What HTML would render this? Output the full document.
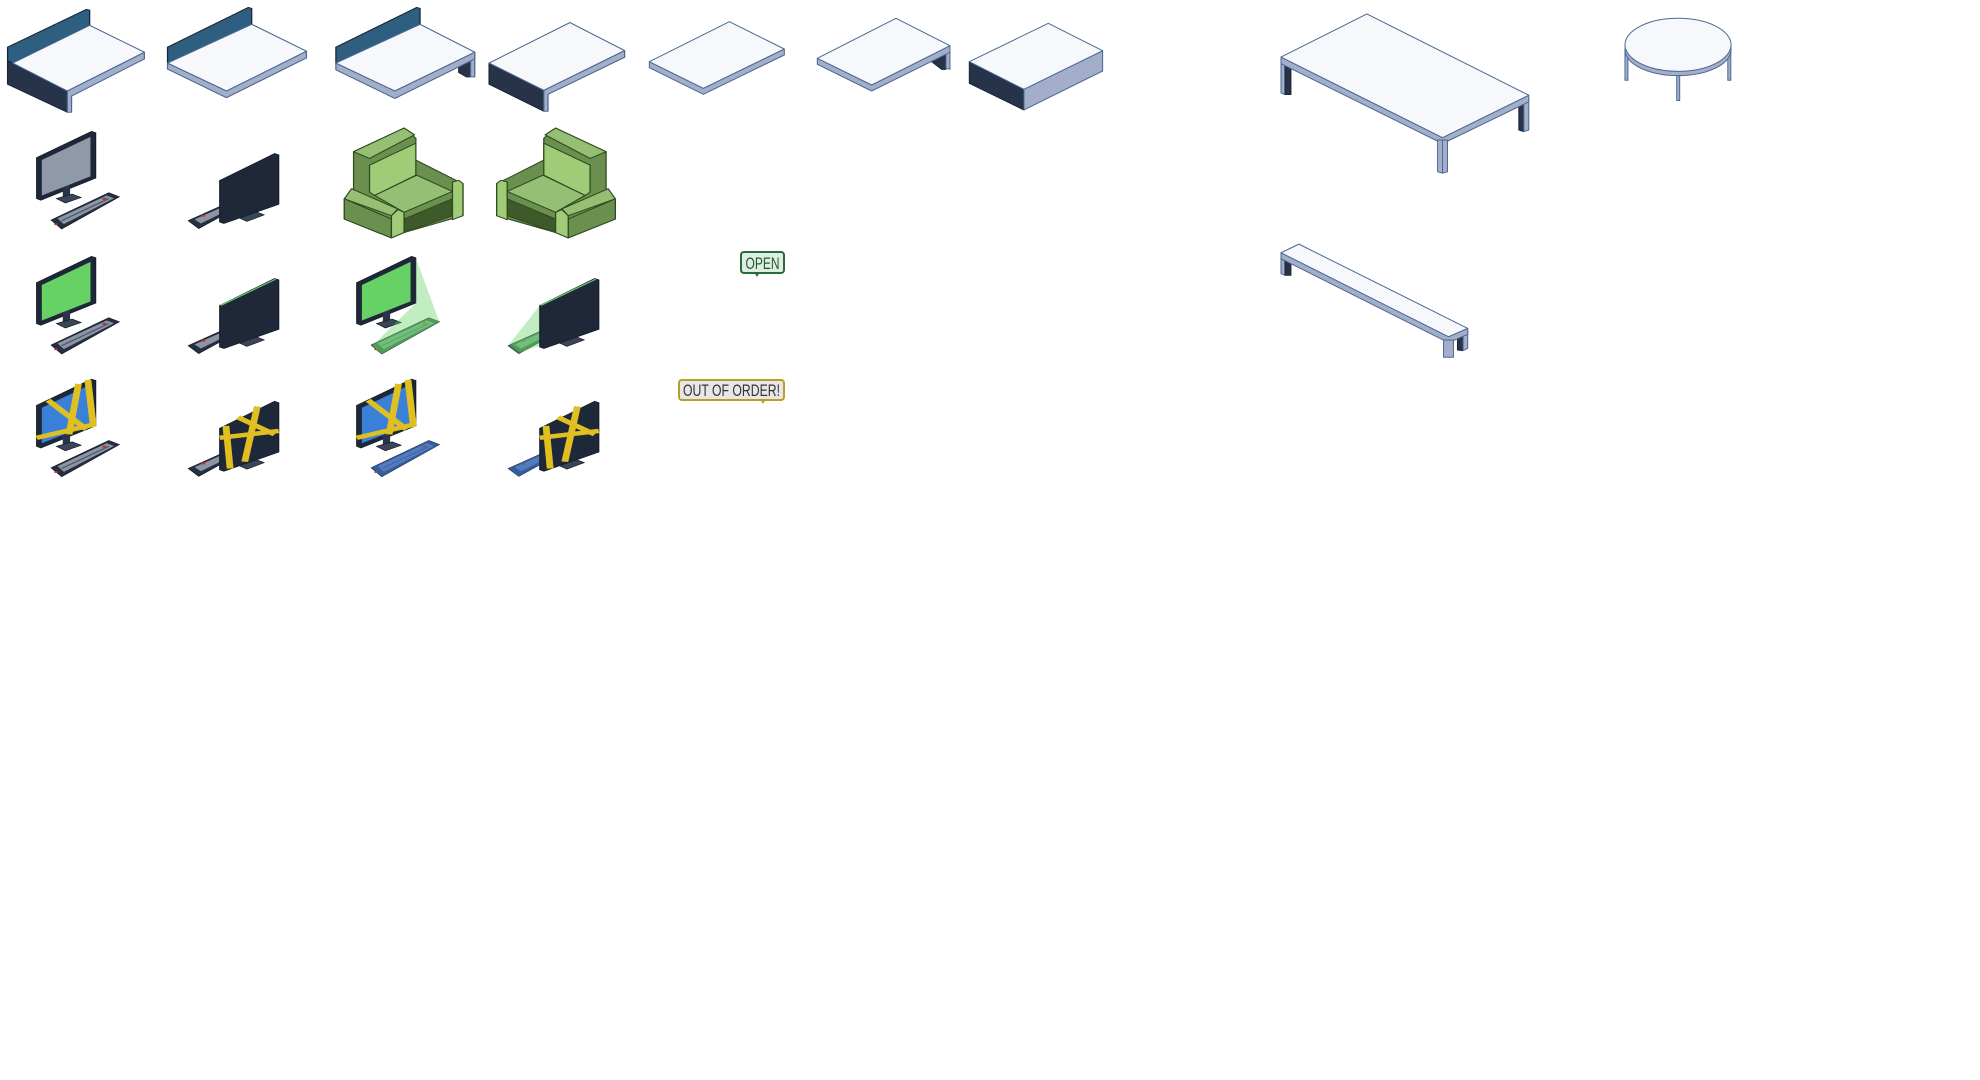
<!DOCTYPE html>
<html><head><meta charset="utf-8"><style>html,body{margin:0;padding:0;background:#fff}svg{display:block}</style></head>
<body>
<svg width="1980" height="1080" viewBox="0 0 1980 1080" xmlns="http://www.w3.org/2000/svg">
<defs>
<g id="kb">
<polygon points="98,308 208,228 228,240 118,334" fill="#263040" stroke="#151c28" stroke-width="2"/>
<polygon points="110,303 204,236 218,244 122,320" fill="#8c95a3"/>
<line x1="118" y1="310" x2="208" y2="245" stroke="#4a5568" stroke-width="3"/>
<rect x="196" y="243" width="7" height="6" fill="#c03030"/>
<rect x="104" y="318" width="6" height="5" fill="#c03030"/>
</g>
<g id="monF">
<polygon points="70,125 175,48 183,52 183,185 78,250 70,245" fill="#1f2838" stroke="#151c28" stroke-width="2"/>
<rect x="120" y="200" width="14" height="45" fill="#2a3446"/>
<polygon points="108,245 138,232 155,242 125,258" fill="#3a4558" stroke="#151c28" stroke-width="2"/>
</g>
<g id="monB">
<rect x="478" y="268" width="14" height="32" fill="#2a3446"/>
<polygon points="455,300 488,283 505,293 472,312" fill="#3a4558" stroke="#151c28" stroke-width="2"/>
<polygon points="420,192 525,113 533,117 533,262 428,318 420,314" fill="#1f2838" stroke="#151c28" stroke-width="2"/>
</g>
<g id="kbB">
<polygon points="360,310 430,262 450,274 380,333" fill="#263040" stroke="#151c28" stroke-width="2"/>
<polygon points="372,306 428,268 440,276 384,318" fill="#8c95a3"/>
<rect x="385" y="292" width="7" height="6" fill="#c03030"/>
</g>
<g id="chair" stroke="#2f4a1e" stroke-width="3" stroke-linejoin="round">
<polygon points="818,590 840,560 840,450 960,380 988,410 988,475 1075,530 1100,545 1100,640 960,690 930,706 818,650" fill="#6b8f4f"/>
<polygon points="840,450 960,380 985,400 878,470" fill="#95bf74"/>
<polygon points="878,490 988,425 988,520 890,580 878,570" fill="#a0cc78"/>
<polygon points="890,580 990,520 1075,568 960,630" fill="#95bf74"/>
<polygon points="960,650 1075,590 1075,640 960,690" fill="#3f5a2a"/>
<polygon points="1075,540 1090,535 1100,545 1100,640 1075,652" fill="#a0cc78"/>
<polygon points="818,590 835,560 945,620 930,640" fill="#95bf74"/>
<polygon points="818,590 930,650 930,706 818,650" fill="#6b8f4f"/>
<polygon points="930,640 945,622 960,630 960,690 930,706" fill="#a0cc78"/>
</g>
<g id="tapeF" stroke="#e0c020" stroke-width="13" fill="none"><line x1="92" y1="110" x2="165" y2="195"/><line x1="150" y1="62" x2="132" y2="210"/><line x1="168" y1="50" x2="178" y2="180"/><line x1="70" y1="220" x2="183" y2="180"/></g>
<g id="tapeB" stroke="#e0c020" stroke-width="13" fill="none"><line x1="432" y1="185" x2="440" y2="310"/><line x1="455" y1="160" x2="525" y2="210"/><line x1="492" y1="128" x2="468" y2="290"/><line x1="420" y1="220" x2="533" y2="200"/></g>
</defs>

<g transform="scale(0.4209,0.337)" stroke="#4a6890" stroke-width="3" stroke-linejoin="round">
<polygon points="18,180 160,270 160,333 18,250" fill="#263349" stroke="#1c2536"/>
<polygon points="18,140 205,28 213,30 213,75 30,187 18,180" fill="#2e5f80" stroke="#1c2536"/>
<polygon points="160,270 343,155 343,175 170,285 170,333 160,333" fill="#a3aecb"/>
<polygon points="30,187 213,75 343,155 160,270" fill="#f6f8fb"/>

<polygon points="398,140 590,22 598,25 598,72 408,187 398,185" fill="#2e5f80" stroke="#1c2536"/>
<polygon points="398,187 538,270 728,152 728,172 538,290 398,205" fill="#a3aecb"/>
<polygon points="398,187 598,72 728,152 538,270" fill="#f6f8fb"/>

<polygon points="1090,175 1118,160 1118,228 1108,228 1090,215" fill="#263349" stroke="#1c2536"/>
<polygon points="1118,158 1128,155 1128,228 1118,228" fill="#a3aecb"/>
<polygon points="798,140 990,22 998,25 998,72 808,187 798,185" fill="#2e5f80" stroke="#1c2536"/>
<polygon points="798,187 938,270 1128,155 1128,175 938,292 798,207" fill="#a3aecb"/>
<polygon points="798,187 998,72 1128,155 938,270" fill="#f6f8fb"/>

<polygon points="1162,187 1292,268 1292,330 1162,250" fill="#263349" stroke="#1c2536"/>
<polygon points="1292,268 1484,150 1484,170 1302,280 1302,330 1292,330" fill="#a3aecb"/>
<polygon points="1162,187 1354,67 1484,150 1292,268" fill="#f6f8fb"/>
</g>

<g transform="scale(0.4209,0.337)">
<use href="#chair"/>
<use href="#chair" transform="translate(2280,0) scale(-1,1)"/>
</g>

<g transform="translate(640,0) scale(0.3333)" stroke="#4a6890" stroke-width="3" stroke-linejoin="round">
<polygon points="28,185 190,265 433,147 433,165 190,283 28,203" fill="#a3aecb"/>
<polygon points="28,185 268,65 433,147 190,265" fill="#f6f8fb"/>
<polygon points="875,185 918,162 918,208 905,208" fill="#263349" stroke="#1c2536"/>
<polygon points="918,160 930,155 930,208 918,205" fill="#a3aecb"/>
<polygon points="532,175 695,255 930,137 930,157 695,273 532,193" fill="#a3aecb"/>
<polygon points="532,175 768,55 930,137 695,255" fill="#f6f8fb"/>
<polygon points="988,185 1152,268 1152,330 988,250" fill="#263349" stroke="#1c2536"/>
<polygon points="1152,268 1388,152 1388,213 1152,330" fill="#a3aecb"/>
<polygon points="988,185 1225,70 1388,152 1152,268" fill="#f6f8fb"/>
</g>

<g transform="translate(1280,0) scale(0.3317)" stroke="#4a6890" stroke-width="3" stroke-linejoin="round">
<polygon points="3,190 15,197 15,285 3,280" fill="#a3aecb"/>
<polygon points="15,197 33,205 33,285 15,285" fill="#263349" stroke="#1c2536"/>
<polygon points="720,310 735,305 735,397 720,392" fill="#263349" stroke="#1c2536"/>
<polygon points="735,303 750,295 750,392 735,397" fill="#a3aecb"/>
<polygon points="3,172 490,415 750,287 750,307 490,433 3,192" fill="#a3aecb"/>
<polygon points="3,172 262,42 750,287 490,415" fill="#f6f8fb"/>
<polygon points="475,422 505,422 505,518 490,522 475,518" fill="#a3aecb"/>
<line x1="490" y1="422" x2="490" y2="520"/>

<rect x="1040" y="150" width="9" height="92" fill="#a3aecb"/>
<rect x="1350" y="150" width="9" height="92" fill="#a3aecb"/>
<rect x="1196" y="222" width="9" height="81" fill="#a3aecb"/>
<ellipse cx="1200" cy="150" rx="160" ry="78" fill="#a3aecb"/>
<ellipse cx="1200" cy="135" rx="160" ry="80" fill="#f6f8fb"/>

<polygon points="3,780 15,787 15,830 3,825" fill="#a3aecb"/>
<polygon points="15,787 33,795 33,830 15,830" fill="#263349" stroke="#1c2536"/>
<polygon points="535,1015 552,1008 552,1057 535,1055" fill="#263349" stroke="#1c2536"/>
<polygon points="552,1005 566,998 566,1050 552,1057" fill="#a3aecb"/>
<polygon points="3,762 508,1015 566,990 566,1008 508,1033 3,780" fill="#a3aecb"/>
<polygon points="3,762 57,736 566,990 508,1015" fill="#f6f8fb"/>
<polygon points="493,1025 523,1025 523,1077 493,1077" fill="#a3aecb"/>
</g>

<g transform="translate(0,115) scale(0.523,0.341)">
<use href="#kb"/>
<use href="#monF"/>
<polygon points="80,132 173,64 173,180 80,236" fill="#9099a8"/>
<use href="#kbB"/>
<use href="#monB"/>
</g>

<g transform="translate(0,240) scale(0.523,0.341)">
<use href="#kb"/>
<use href="#monF"/>
<polygon points="80,132 173,64 173,180 80,236" fill="#66d266"/>
<use href="#kbB"/>
<use href="#monB"/>
<line x1="422" y1="192" x2="527" y2="115" stroke="#66d266" stroke-width="3"/>

<g transform="translate(612,0)">
<use href="#kb"/>
<polygon points="98,308 208,228 228,240 118,334" fill="#66d266" opacity="0.45"/>
<use href="#monF"/>
<polygon points="80,132 173,64 173,180 80,236" fill="#66d266"/>
<polygon points="183,52 228,240 118,334 100,310 183,185" fill="#66d266" opacity="0.4"/>
</g>
<g transform="translate(612,0)">
<use href="#kbB"/>
<polygon points="360,310 430,262 450,274 380,333" fill="#66d266" opacity="0.45"/>
<polygon points="420,192 362,305 382,330 420,310" fill="#66d266" opacity="0.4"/>
<use href="#monB"/>
<line x1="422" y1="192" x2="527" y2="115" stroke="#66d266" stroke-width="3"/>
</g>

<g transform="translate(0,360)">
<use href="#kb"/>
<use href="#monF"/>
<polygon points="80,132 173,64 173,180 80,236" fill="#3a80d8"/>
<use href="#tapeF"/>
<use href="#kbB"/>
<use href="#monB"/>
<use href="#tapeB"/>
</g>
<g transform="translate(612,360)">
<use href="#kb"/>
<polygon points="98,308 208,228 228,240 118,334" fill="#3a70c8" opacity="0.7"/>
<use href="#monF"/>
<polygon points="80,132 173,64 173,180 80,236" fill="#3a80d8"/>
<use href="#tapeF"/>
<use href="#kbB"/>
<polygon points="360,310 430,262 450,274 380,333" fill="#3a70c8" opacity="0.7"/>
<use href="#monB"/>
<use href="#tapeB"/>
</g>
</g>

<rect x="741" y="252" width="43" height="21" rx="3" fill="#dfeee2" stroke="#2d6a3a" stroke-width="2"/>
<polygon points="754,272 760,272 757,277" fill="#2d6a3a"/>
<text x="762.5" y="269" font-family="Liberation Sans, sans-serif" font-size="17" fill="#1f5a2c" text-anchor="middle" textLength="34" lengthAdjust="spacingAndGlyphs">OPEN</text>

<rect x="679" y="380" width="105" height="20" rx="3" fill="#e6e6ee" stroke="#b8a020" stroke-width="2"/>
<polygon points="760,399 766,399 763,404" fill="#b8a020"/>
<text x="731.5" y="396" font-family="Liberation Sans, sans-serif" font-size="17" fill="#3a3520" text-anchor="middle" textLength="97" lengthAdjust="spacingAndGlyphs">OUT OF ORDER!</text>
</svg>
</body></html>
